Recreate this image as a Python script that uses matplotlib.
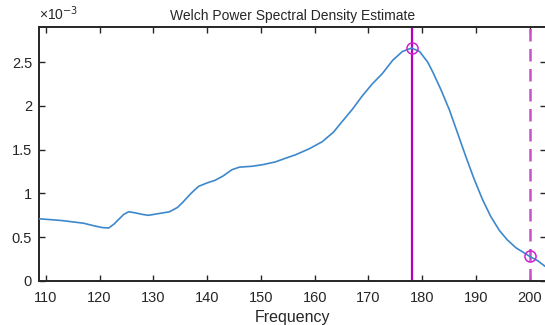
import matplotlib
matplotlib.use("Agg")
import matplotlib.pyplot as plt
from matplotlib.ticker import FuncFormatter

# Data (PSD values in units of 1e-3)
freq = [108.8, 111, 113, 115, 117, 119, 120.5, 121.7, 122.7, 123.5, 124.5, 125.4,
        126.5, 128, 129.1, 131, 133, 134.5, 135.5, 137, 138.4, 140, 141.5, 143,
        144.6, 146, 148.4, 150.5, 152.7, 154.5, 156.4, 159, 161.4, 163.5, 165.1,
        167, 168.8, 170.7, 172.6, 174.5, 176.3, 178, 179.5, 181, 182, 183.5, 185,
        186.5, 188.1, 189.6, 191.2, 192.7, 194.3, 195.8, 197.4, 200, 201.5, 203.2]
psd_e3 = [0.71, 0.70, 0.69, 0.675, 0.66, 0.63, 0.61, 0.605, 0.65, 0.70, 0.76, 0.79,
          0.78, 0.76, 0.75, 0.77, 0.79, 0.84, 0.90, 1.00, 1.08, 1.12, 1.15, 1.20,
          1.27, 1.30, 1.31, 1.33, 1.36, 1.40, 1.44, 1.51, 1.59, 1.70, 1.82,
          1.96, 2.11, 2.25, 2.37, 2.52, 2.62, 2.66, 2.62, 2.50, 2.38, 2.18, 1.96,
          1.70, 1.42, 1.17, 0.93, 0.74, 0.58, 0.47, 0.38, 0.28, 0.23, 0.15]
psd = [v * 1e-3 for v in psd_e3]

peak_freq = 178
peak_val = 2.66e-3
cut_freq = 200
cut_val = 0.28e-3

xticks = [110, 120, 130, 140, 150, 160, 170, 180, 190, 200]
yticks = [0, 0.5e-3, 1e-3, 1.5e-3, 2e-3, 2.5e-3]

plt.rcParams['font.family'] = ['Liberation Sans', 'DejaVu Sans']

fig = plt.figure(figsize=(5.45, 3.25), dpi=100)
ax = fig.add_axes([39 / 545, 1 - 281 / 325, (546 - 39) / 545, (281 - 27) / 325])

ax.plot(freq, psd, color='#3d88cc', lw=1.2, zorder=3)
ax.axvline(peak_freq, color='#b400c0', lw=1.6, zorder=2)
ax.axvline(cut_freq, color='#c850c8', lw=1.8, ls=(0, (5, 3)), zorder=2)
ax.plot([peak_freq], [peak_val], 'o', mfc='none', mec='#d020d0', ms=8, mew=1.1, zorder=4)
ax.plot([cut_freq], [cut_val], 'o', mfc='none', mec='#d020d0', ms=8, mew=1.1, zorder=4)

ax.set_xlim(108.75, 203.0)
ax.set_ylim(0, 2.9e-3)
ax.set_xticks(xticks)
ax.set_yticks(yticks)
ax.yaxis.set_major_formatter(FuncFormatter(lambda v, p: f"{v * 1e3:g}"))
ax.tick_params(direction='in', length=4, width=1, top=True, right=True,
               labelsize=10.5, colors='#262626')
ax.tick_params(axis='x', pad=7)
ax.tick_params(axis='y', pad=5)
for s in ax.spines.values():
    s.set_color('#262626')
    s.set_linewidth(1.4)

ax.set_title('Welch Power Spectral Density Estimate', fontsize=10, color='#262626', pad=5)
ax.set_xlabel('Frequency', fontsize=11.5, color='#262626', labelpad=4)
ax.text(0.0, 1.015, '×10$^{-3}$', transform=ax.transAxes, fontsize=10,
        color='#262626', ha='left', va='bottom')

fig.savefig('out.png', dpi=100)
